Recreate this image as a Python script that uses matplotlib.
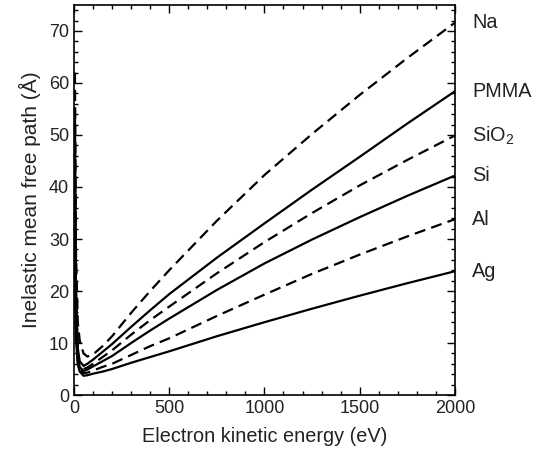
import matplotlib
matplotlib.use("Agg")
import matplotlib.pyplot as plt
from matplotlib.ticker import MultipleLocator

plt.rcParams['font.family'] = ['Liberation Sans', 'DejaVu Sans']
plt.rcParams['mathtext.fontset'] = 'custom'
plt.rcParams['mathtext.rm'] = 'Liberation Sans'
plt.rcParams['mathtext.it'] = 'Liberation Sans'

# electron energies (eV) where the curves were sampled
energy = [5, 10, 20, 30, 50, 70, 100, 150, 200, 300, 400, 500, 750, 1000, 1250, 1500, 1750, 2000]

# inelastic mean free path (Angstrom) for each material
na   = [62, 28, 14, 10.5, 8.0, 7.4, 7.8, 9.4, 11.3, 15.8, 20.0, 24.0, 33.5, 42.3, 50.2, 57.7, 64.8, 71.6]
pmma = [55, 22, 9.0, 6.5, 5.6, 6.0, 6.8, 8.3, 9.8, 13.1, 16.3, 19.4, 26.4, 33.0, 39.5, 45.8, 52.2, 58.4]
sio2 = [48, 18, 8.0, 5.8, 5.0, 5.3, 6.0, 7.3, 8.6, 11.6, 14.4, 17.0, 23.4, 29.4, 35.0, 40.3, 45.2, 49.9]
si   = [42, 15, 7.0, 5.4, 4.6, 4.9, 5.5, 6.5, 7.5, 10.0, 12.4, 14.7, 20.2, 25.3, 29.9, 34.2, 38.3, 42.2]
al   = [38, 13, 6.5, 5.0, 4.2, 4.3, 4.7, 5.4, 6.0, 7.7, 9.4, 10.9, 15.2, 19.3, 23.3, 27.0, 30.5, 33.8]
ag   = [30, 11, 5.8, 4.5, 3.7, 3.8, 4.1, 4.5, 5.0, 6.2, 7.3, 8.4, 11.3, 14.0, 16.6, 19.1, 21.5, 23.8]

names = ['Na', 'PMMA', 'SiO$_2$', 'Si', 'Al', 'Ag']
curves = [na, pmma, sio2, si, al, ag]
dashed = [True, False, True, False, True, False]

fig = plt.figure(figsize=(5.35, 4.53), dpi=100)
ax = fig.add_axes([0.1383, 0.128, 0.712, 0.861])

for name, vals, d in zip(names, curves, dashed):
    if d:
        ax.plot(energy, vals, color='black', lw=1.6, dashes=(5, 2.8))
    else:
        ax.plot(energy, vals, color='black', lw=1.6)
    # label at the right-hand end of each curve
    ax.annotate(name, xy=(1, vals[-1]), xycoords=('axes fraction', 'data'),
                xytext=(12.5, 0), textcoords='offset points',
                va='center', ha='left', fontsize=14.3, color='#222222')

ax.set_xlim(0, 2000)
ax.set_ylim(0, 75)
ax.xaxis.set_major_locator(MultipleLocator(500))
ax.xaxis.set_minor_locator(MultipleLocator(100))
ax.yaxis.set_major_locator(MultipleLocator(10))
ax.yaxis.set_minor_locator(MultipleLocator(2))
ax.tick_params(which='both', direction='in', top=True, right=True,
               labelsize=13, labelcolor='#222222', width=1.0)
ax.tick_params(which='major', length=6)
ax.tick_params(which='minor', length=3)
for s in ax.spines.values():
    s.set_linewidth(1.2)

ax.set_xlabel('Electron kinetic energy (eV)', fontsize=14.3, color='#222222', labelpad=7)
ax.set_ylabel('Inelastic mean free path (Å)', fontsize=15, color='#222222', labelpad=6)

fig.savefig('out.png', dpi=100)
